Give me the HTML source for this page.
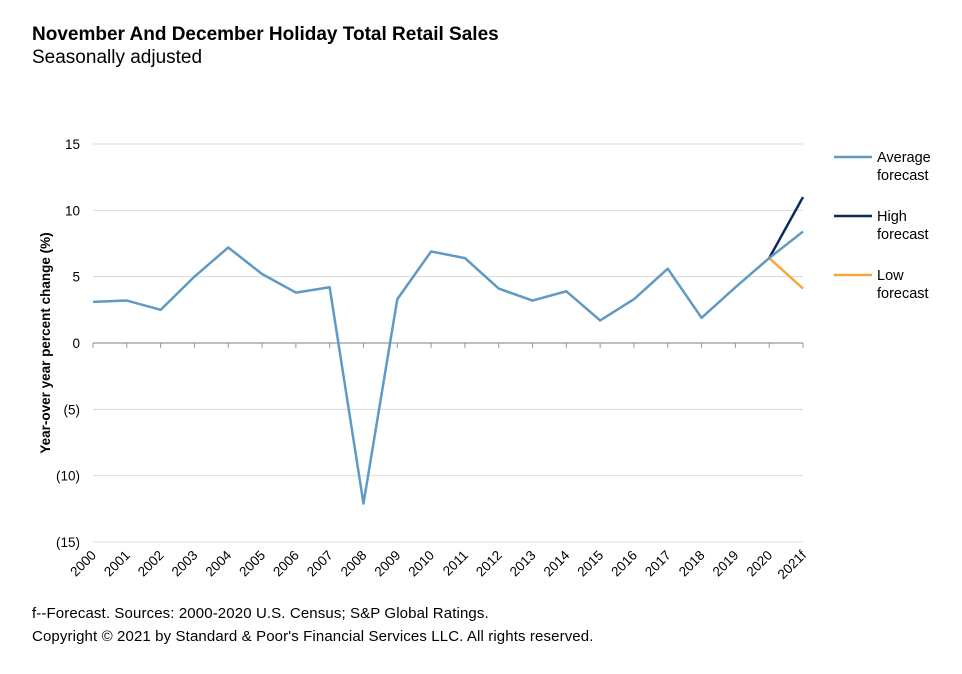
<!DOCTYPE html>
<html><head><meta charset="utf-8"><style>
body{margin:0;background:#fff;font-family:"Liberation Sans",Arial,sans-serif;}
#wrap{position:relative;width:962px;height:674px;overflow:hidden}
.t{position:absolute;left:32px;color:#000;white-space:nowrap}
</style></head><body>
<div id="wrap">
<div class="t" style="top:24px;font-size:19px;font-weight:bold">November And December Holiday Total Retail Sales</div>
<div class="t" style="top:47px;font-size:19px">Seasonally adjusted</div>
<svg id="chart" width="962" height="674" style="position:absolute;left:0;top:0"></svg>
<div class="t" style="top:605px;font-size:15px;letter-spacing:0.12px">f--Forecast. Sources: 2000-2020 U.S. Census; S&amp;P Global Ratings.</div>
<div class="t" style="top:628px;font-size:15px;letter-spacing:0.12px">Copyright © 2021 by Standard &amp; Poor's Financial Services LLC. All rights reserved.</div>
</div>
<script>
const categories=["2000","2001","2002","2003","2004","2005","2006","2007","2008","2009","2010","2011","2012","2013","2014","2015","2016","2017","2018","2019","2020","2021f"];
const averageValues=[3.1,3.2,2.5,5.0,7.2,5.2,3.8,4.2,-12.1,3.3,6.9,6.4,4.1,3.2,3.9,1.7,3.3,5.6,1.9,4.2,6.4,8.4];
const highValues=[null,null,null,null,null,null,null,null,null,null,null,null,null,null,null,null,null,null,null,null,6.4,11.0];
const lowValues=[null,null,null,null,null,null,null,null,null,null,null,null,null,null,null,null,null,null,null,null,6.4,4.1];
const yTicks=[15,10,5,0,-5,-10,-15];
const yTickLabels=["15","10","5","0","(5)","(10)","(15)"];
const NS="http://www.w3.org/2000/svg";
const svg=document.getElementById('chart');
const x0=93,x1=803,yTop=144,yBot=542;
const xS=i=>x0+(x1-x0)*i/(categories.length-1);
const yS=v=>yBot-(v+15)/30*(yBot-yTop);
function mk(tag,attrs,parent){const e=document.createElementNS(NS,tag);for(const k in attrs)e.setAttribute(k,attrs[k]);(parent||svg).appendChild(e);return e;}
yTicks.forEach((v,i)=>{
  if(v!==0){const g=mk('line',{x1:x0,x2:x1,y1:yS(v),y2:yS(v),stroke:'#d9d9d9','stroke-width':1});
  
  }
  const t=mk('text',{x:80,y:yS(v)+5,'text-anchor':'end','font-size':13.5});
  t.textContent=yTickLabels[i];
  
  
});
const ax=mk('line',{x1:x0,x2:x1,y1:yS(0),y2:yS(0),stroke:'#999','stroke-width':1.2});


categories.forEach((c,i)=>{
  const tk=mk('line',{x1:xS(i),x2:xS(i),y1:yS(0),y2:yS(0)+5,stroke:'#999'});
  
  
  const t=mk('text',{x:xS(i)+4,y:556,'text-anchor':'end','font-size':13.5,transform:`rotate(-45 ${xS(i)+4} 556)`});
  t.textContent=c;
  
  
});
const yt=mk('text',{x:0,y:0,'text-anchor':'middle','font-size':13.5,'font-weight':'bold',transform:`translate(50 343) rotate(-90)`});
yt.textContent='Year-over year percent change (%)';


function series(vals,color,name){
  const pts=[];vals.forEach((v,i)=>{if(v!==null)pts.push(xS(i)+','+yS(v));});
  const p=mk('polyline',{points:pts.join(' '),fill:'none',stroke:color,'stroke-width':2.5,'stroke-linejoin':'round'});
  
  
}
series(highValues,'#0b2a5b','high-forecast-line');
series(lowValues,'#f5a93a','low-forecast-line');
series(averageValues,'#5f9ac4','average-forecast-line');
const legend=[["Average","#5f9ac4",157],["High","#0b2a5b",216],["Low","#f5a93a",275]];
legend.forEach(l=>{
  const g=mk('g',{});
  
  
  mk('line',{x1:834,x2:872,y1:l[2],y2:l[2],stroke:l[1],'stroke-width':2.5},g);
  const t=mk('text',{x:877,y:l[2]+5,'font-size':14.5},g);t.textContent=l[0];
  const t2=mk('text',{x:877,y:l[2]+23,'font-size':14.5},g);t2.textContent='forecast';
});
</script>
</body></html>
